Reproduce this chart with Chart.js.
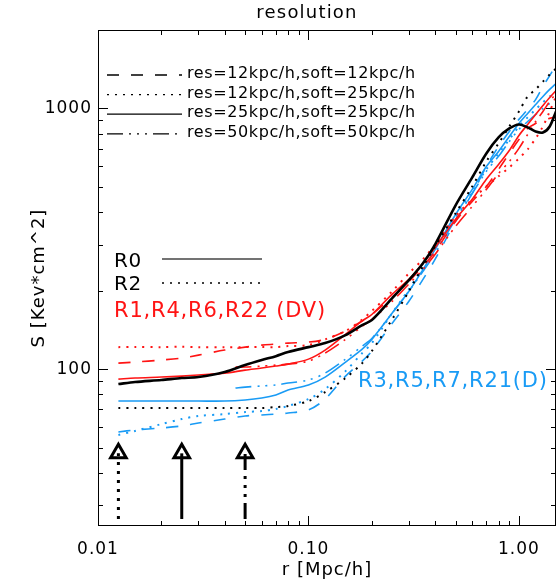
<!DOCTYPE html>
<html>
<head>
<meta charset="utf-8">
<script src="https://cdn.jsdelivr.net/npm/chart.js@4/dist/chart.umd.min.js"></script>
<style>
  html, body { margin: 0; padding: 0; background: #fff; }
  canvas { display: block; }
</style>
</head>
<body>
<canvas id="grafico" width="557" height="581"></canvas>
<script>
// radios (Mpc/h)
const radios = [0.0125, 0.015, 0.02, 0.025, 0.03, 0.04, 0.05, 0.06, 0.07, 0.08, 0.1, 0.12, 0.15, 0.18, 0.2,
  0.25, 0.3, 0.35, 0.4, 0.5, 0.6, 0.7, 0.8, 0.9, 1.0, 1.1, 1.2, 1.3, 1.4, 1.5];
// las corridas de res=50kpc/h empiezan mas afuera
const radios50 = [0.045, 0.05, 0.06, 0.07, 0.08, 0.1, 0.12, 0.15, 0.18, 0.2,
  0.25, 0.3, 0.35, 0.4, 0.5, 0.6, 0.7, 0.8, 0.9, 1.0, 1.1, 1.2, 1.3, 1.4, 1.5];

// entropia S [Kev*cm^2]
const negroSolido = [87.6, 89.2, 90.8, 92.4, 93.2, 97.4, 103.6, 108.3, 112.1, 116.2, 121.4, 125.8, 134.9, 147.5, 154.1,
  187.1, 219.3, 254.7, 301.2, 425, 544, 672, 774, 838, 868, 846, 816, 809, 853, 974];
const negroPunteado = [70.9, 70.9, 70.9, 70.9, 70.9, 70.9, 70.9, 70.9, 71.5, 72.2, 75.4, 81.6, 92.4, 105.4, 117.2,
  155.3, 199, 248, 296, 396, 502, 626, 734, 853, 974, 1112, 1183, 1268, 1349, 1423];

const rojoSolido = [91.5, 92.4, 93.2, 94.0, 94.9, 96.5, 99.1, 100.9, 102.7, 104.5, 109.2, 118.3, 136, 153, 162,
  194, 221, 255, 293, 376, 448, 535, 610, 690, 788, 868, 948, 1026, 1102, 1172];
const rojoPunteado = [121.4, 121.6, 121.4, 121.8, 121.4, 121.2, 121.4, 121.6, 121.4, 122.5, 123.6, 130, 140, 155, 167,
  199, 233, 264, 301, 386, 448, 502, 549, 594, 643, 697, 767, 853, 974, 1112];
const rojoGuiones = [105.4, 106.4, 108.3, 110.2, 113.1, 118.3, 121.4, 123.6, 124.7, 125.8, 126.9, 130, 140, 153, 162,
  189, 217, 248, 283, 369, 440, 502, 584, 672, 760, 838, 876, 900, 916, 931];
const rojoRaya = [101.8, 101.8, 102.7, 103.6, 104.5, 107.3, 115.2, 130, 146, 155,
  182, 212, 241, 276, 353, 421, 489, 563, 626, 703, 795, 891, 974, 1064, 1141];

const azulSolido = [75.4, 75.4, 75.4, 75.4, 75.4, 75.4, 76.1, 77.4, 79.5, 83.1, 86.9, 93.2, 106.4, 119.3, 130,
  164, 199, 241, 288, 392, 489, 599, 684, 781, 876, 957, 1035, 1112, 1183, 1247];
const azulPunteado = [55.9, 57.9, 61.5, 64.3, 66.1, 67.2, 68.4, 69.0, 70.3, 72.2, 76.7, 83.8, 98.2, 115.2, 125.8,
  164, 202.6, 246, 288, 386, 481, 584, 672, 760, 853, 924, 991, 1055, 1112, 1161];
const azulGuiones = [57.4, 58.4, 59.4, 60.5, 62.1, 64.3, 66.1, 66.7, 67.2, 67.8, 69.7, 76.7, 94.0, 107.3, 117.2,
  150, 182, 221, 264, 369, 472, 599, 715, 816, 908, 991, 1081, 1214, 1337, 1462];
const azulRaya = [84.6, 85.3, 86.1, 86.9, 88.4, 90.8, 96.5, 109.2, 122.5, 131,
  164, 199, 237, 278, 376, 472, 574, 655, 747, 831, 891, 948, 1000, 1045, 1081];

// flechas de resolucion
const flechasR = [0.0125, 0.025, 0.05];
const flechasS = [26.6, 47.5];

const leyendaRes = ["res=12kpc/h,soft=12kpc/h", "res=12kpc/h,soft=25kpc/h",
  "res=25kpc/h,soft=25kpc/h", "res=50kpc/h,soft=50kpc/h"];
const ticksX = [0.01, 0.1, 1];
const ticksY = [100, 1000];

const ROJO = "rgb(255,20,20)";
const AZUL = "rgb(25,155,245)";
const GUION = [12, 12];
const PUNTO = [2, 6];
const RAYAPUNTO = [16, 6, 2, 6, 2, 6, 2, 6];

function serie(xs, ys, color, dash, ancho) {
  return {
    data: xs.map((r, i) => ({ x: r, y: ys[i] })),
    borderColor: color,
    borderWidth: ancho || 1.6,
    borderDash: dash,
    pointRadius: 0,
    tension: 0.3,
    fill: false
  };
}

function flecha(r, dash) {
  return {
    data: flechasS.map(s => ({ x: r, y: s })),
    borderColor: "#000",
    borderWidth: 3,
    borderDash: dash,
    pointRadius: [0, 9],
    pointStyle: "triangle",
    pointBorderWidth: 3,
    pointBorderColor: "#000",
    pointBackgroundColor: "rgba(255,255,255,0)",
    tension: 0
  };
}

// letras un poco mas espaciadas, como la fuente de IDL
const espaciado = {
  id: "espaciado",
  beforeDraw(chart) { chart.ctx.letterSpacing = "1px"; }
};

const marco = {
  id: "marco",
  afterDatasetsDraw(chart) {
    const { ctx, chartArea: a, scales: { x, y } } = chart;
    ctx.save();
    ctx.strokeStyle = "#000";
    ctx.lineWidth = 1;
    ctx.setLineDash([]);
    ctx.strokeRect(a.left + 0.5, a.top + 0.5, a.right - a.left - 1, a.bottom - a.top - 1);
    ctx.beginPath();
    [0.01, 0.1, 1].forEach(d => {
      for (let k = 1; k <= 9; k++) {
        const v = k * d;
        if (v < 0.01 || v > 1.5) continue;
        const px = Math.round(x.getPixelForValue(v)) + 0.5;
        const l = k === 1 ? 10 : 5;
        ctx.moveTo(px, a.bottom); ctx.lineTo(px, a.bottom - l);
        ctx.moveTo(px, a.top); ctx.lineTo(px, a.top + l);
      }
    });
    [10, 100, 1000].forEach(d => {
      for (let k = 1; k <= 9; k++) {
        const v = k * d;
        if (v < 25 || v > 2000) continue;
        const py = Math.round(y.getPixelForValue(v)) + 0.5;
        const l = k === 1 ? 10 : 5;
        ctx.moveTo(a.left, py); ctx.lineTo(a.left + l, py);
        ctx.moveTo(a.right, py); ctx.lineTo(a.right - l, py);
      }
    });
    ctx.stroke();
    ctx.restore();
  }
};

function texto(ctx, s, x, y, size, color, esp) {
  ctx.font = size + "px 'DejaVu Sans'";
  ctx.fillStyle = color;
  ctx.letterSpacing = (esp || 0) + "px";
  ctx.textBaseline = "middle";
  ctx.fillText(s, x, y);
}

const textos = {
  id: "textos",
  afterDraw(chart) {
    const ctx = chart.ctx;
    ctx.save();
    ctx.textAlign = "center";
    texto(ctx, "resolution", 307, 13, 18, "#000", 1.2);
    ctx.textAlign = "left";

    const estilos = [GUION, PUNTO, [], RAYAPUNTO];
    leyendaRes.forEach((s, i) => {
      const yy = 74 + i * 19.6;
      ctx.beginPath();
      ctx.setLineDash(estilos[i]);
      ctx.strokeStyle = "#000";
      ctx.lineWidth = 1.3;
      ctx.moveTo(107, yy + 1); ctx.lineTo(182, yy + 1);
      ctx.stroke();
      ctx.setLineDash([]);
      texto(ctx, s, 187, yy, 16, "#000", 0.6);
    });

    texto(ctx, "R0", 114, 262, 20, "#000", 0.5);
    texto(ctx, "R2", 114, 285, 20, "#000", 0.5);
    ctx.beginPath();
    ctx.strokeStyle = "#444"; ctx.lineWidth = 1.3;
    ctx.moveTo(162, 259); ctx.lineTo(262, 259); ctx.stroke();
    ctx.beginPath();
    ctx.setLineDash(PUNTO);
    ctx.strokeStyle = "#000";
    ctx.moveTo(162, 283); ctx.lineTo(262, 283); ctx.stroke();
    ctx.setLineDash([]);

    texto(ctx, "R1,R4,R6,R22 (DV)", 114, 312, 21, ROJO, 0.8);
    texto(ctx, "R3,R5,R7,R21(D)", 358, 382, 21, AZUL, 0.8);
    ctx.restore();
  }
};

Chart.defaults.font.family = "'DejaVu Sans'";
Chart.defaults.color = "#000";

new Chart(document.getElementById("grafico"), {
  type: "line",
  data: {
    datasets: [
      serie(radios, negroSolido, "#000", [], 2.6),
      serie(radios, negroPunteado, "#000", PUNTO, 2),
      serie(radios, rojoSolido, ROJO, []),
      serie(radios, rojoPunteado, ROJO, PUNTO, 2),
      serie(radios, rojoGuiones, ROJO, GUION),
      serie(radios50, rojoRaya, ROJO, RAYAPUNTO),
      serie(radios, azulSolido, AZUL, []),
      serie(radios, azulPunteado, AZUL, PUNTO, 2),
      serie(radios, azulGuiones, AZUL, GUION),
      serie(radios50, azulRaya, AZUL, RAYAPUNTO),
      flecha(flechasR[0], [3, 6]),
      flecha(flechasR[1], []),
      flecha(flechasR[2], [16, 6, 3, 6, 3, 6, 3, 6])
    ]
  },
  options: {
    responsive: false,
    animation: false,
    devicePixelRatio: 1,
    layout: { autoPadding: false, padding: { top: 30, right: 1, left: 0, bottom: 0 } },
    plugins: { legend: { display: false }, tooltip: { enabled: false }, title: { display: false } },
    scales: {
      x: {
        type: "logarithmic",
        min: 0.01,
        max: 1.5,
        grid: { display: false, drawTicks: false },
        border: { display: false },
        afterFit: s => { s.height = 55; s.paddingLeft = 0; s.paddingRight = 0; },
        ticks: {
          autoSkip: false,
          maxRotation: 0,
          padding: 13,
          font: { size: 17 },
          callback: v => ticksX.some(t => Math.abs(Math.log10(v) - Math.log10(t)) < 1e-6) ? Number(v).toFixed(2) : ""
        },
        title: { display: true, text: "r [Mpc/h]", font: { size: 18 }, padding: { top: 0, bottom: 0 } }
      },
      y: {
        type: "logarithmic",
        min: 25,
        max: 2000,
        grid: { display: false, drawTicks: false },
        border: { display: false },
        afterFit: s => { s.width = 98; s.paddingTop = 0; s.paddingBottom = 0; },
        ticks: {
          autoSkip: false,
          padding: 6,
          font: { size: 17 },
          callback: v => ticksY.some(t => Math.abs(Math.log10(v) - Math.log10(t)) < 1e-6) ? String(Math.round(v)) : ""
        },
        title: { display: true, text: "S [Kev*cm^2]", font: { size: 18 }, padding: { top: 29, bottom: 0 } }
      }
    }
  },
  plugins: [espaciado, marco, textos]
});
</script>
</body>
</html>
